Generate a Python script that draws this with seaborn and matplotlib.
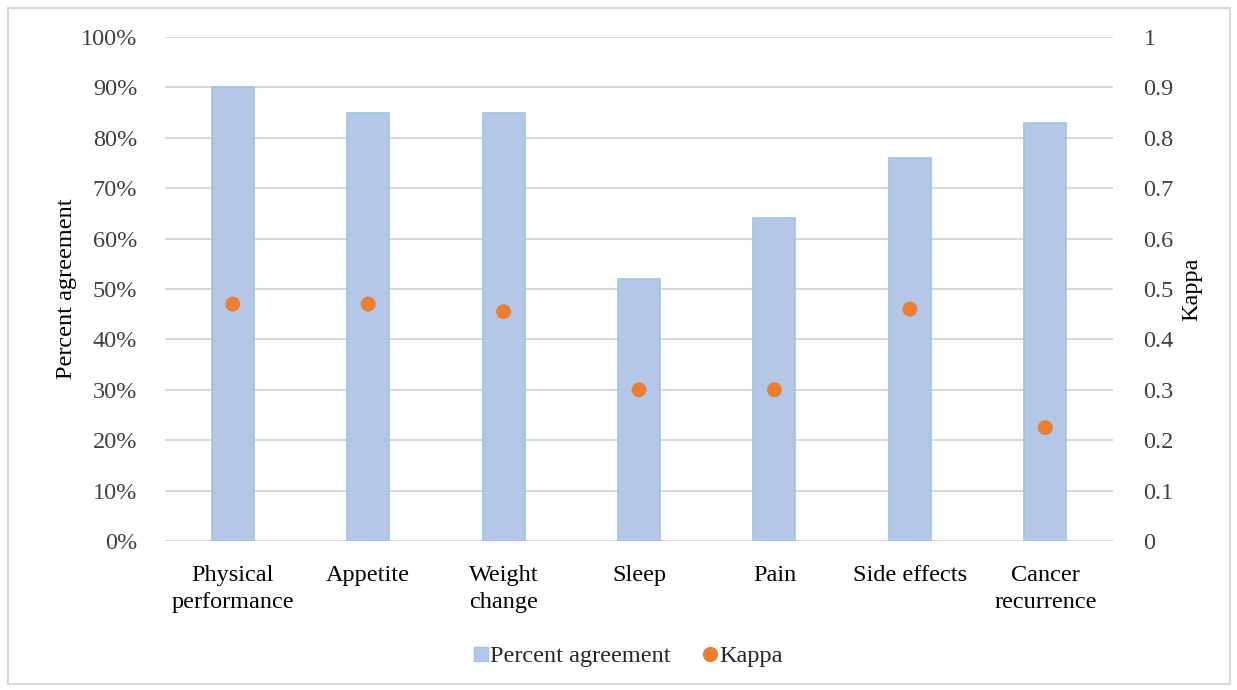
import matplotlib
matplotlib.use("Agg")
import matplotlib.pyplot as plt
import seaborn as sns
import pandas as pd
from matplotlib.ticker import PercentFormatter, FuncFormatter
from matplotlib.patches import Rectangle
from matplotlib.lines import Line2D

categories = ["Physical\nperformance", "Appetite", "Weight\nchange", "Sleep",
              "Pain", "Side effects", "Cancer\nrecurrence"]
percent_agreement = [0.90, 0.85, 0.85, 0.52, 0.64, 0.76, 0.83]
kappa = [0.47, 0.47, 0.455, 0.30, 0.30, 0.46, 0.225]

df = pd.DataFrame({"category": categories,
                   "percent": percent_agreement,
                   "kappa": kappa})

sns.set_style("white")
plt.rcParams["font.family"] = ["Liberation Serif", "DejaVu Serif"]
FS = 17.5
TXT = "#404040"
BAR = "#B4C7E7"
BAR_EDGE = "#9DC3E6"
DOT = "#ED7D31"
GRID = "#D9D9D9"

fig = plt.figure(figsize=(12.37, 6.90), dpi=100)
ax = fig.add_axes([165/1237, 1-541/690, (1113-165)/1237, (541-37)/690])

sns.barplot(data=df, x="category", y="percent", ax=ax, color=BAR,
            edgecolor=BAR_EDGE, linewidth=1.2, width=0.31, saturation=1,
            zorder=2)
ax.set_ylim(0, 1)
ax.set_xlim(-0.5, len(categories) - 0.5)
ax.set_yticks([i/10 for i in range(11)])
ax.yaxis.set_major_formatter(PercentFormatter(1.0, decimals=0))
ax.grid(axis="y", color=GRID, linewidth=1.5, zorder=0)
ax.set_axisbelow(True)
for s in ax.spines.values():
    s.set_visible(False)
ax.axhline(0, color=GRID, linewidth=1.5, zorder=1)
ax.tick_params(axis="y", length=0, pad=20, labelsize=FS, labelcolor=TXT)
ax.tick_params(axis="x", length=0, pad=17, labelsize=FS, labelcolor="black")
for lab in ax.get_xticklabels():
    lab.set_linespacing(1.4)
ax.set_xlabel("")
ax.set_ylabel("Percent agreement", fontsize=FS, color="black", labelpad=3)

ax2 = ax.twinx()
sns.scatterplot(data=df, x="category", y="kappa", ax=ax2, color=DOT, s=115,
                edgecolor="none", zorder=3, legend=False)
ax2.set_ylim(0, 1)
ax2.set_yticks([i/10 for i in range(11)])
ax2.yaxis.set_major_formatter(FuncFormatter(lambda v, p: "0" if v == 0 else ("1" if abs(v-1) < 1e-9 else f"{v:.1f}")))
ax2.tick_params(axis="y", length=0, pad=22, labelsize=FS, labelcolor=TXT)
for s in ax2.spines.values():
    s.set_visible(False)
ax2.set_ylabel("Kappa", fontsize=FS, color="black", labelpad=5)

handles = [
    Line2D([0], [0], marker="s", linestyle="none", markersize=10,
           markerfacecolor=BAR, markeredgecolor=BAR_EDGE, label="Percent agreement"),
    Line2D([0], [0], marker="o", linestyle="none", markersize=10,
           markerfacecolor=DOT, markeredgecolor=DOT, label="Kappa"),
]
fig.legend(handles=handles, loc="center", bbox_to_anchor=(0.506, 1-656/690),
           ncol=2, frameon=False, fontsize=FS, handletextpad=-0.1,
           columnspacing=1.1, handlelength=1.0)

fig.patches.append(Rectangle((8/1237, 1-684/690), (1230-8)/1237, (684-8)/690,
                             transform=fig.transFigure, fill=False,
                             edgecolor="#D9D9D9", linewidth=1.5))

fig.savefig("out.png", dpi=100, facecolor="white")
